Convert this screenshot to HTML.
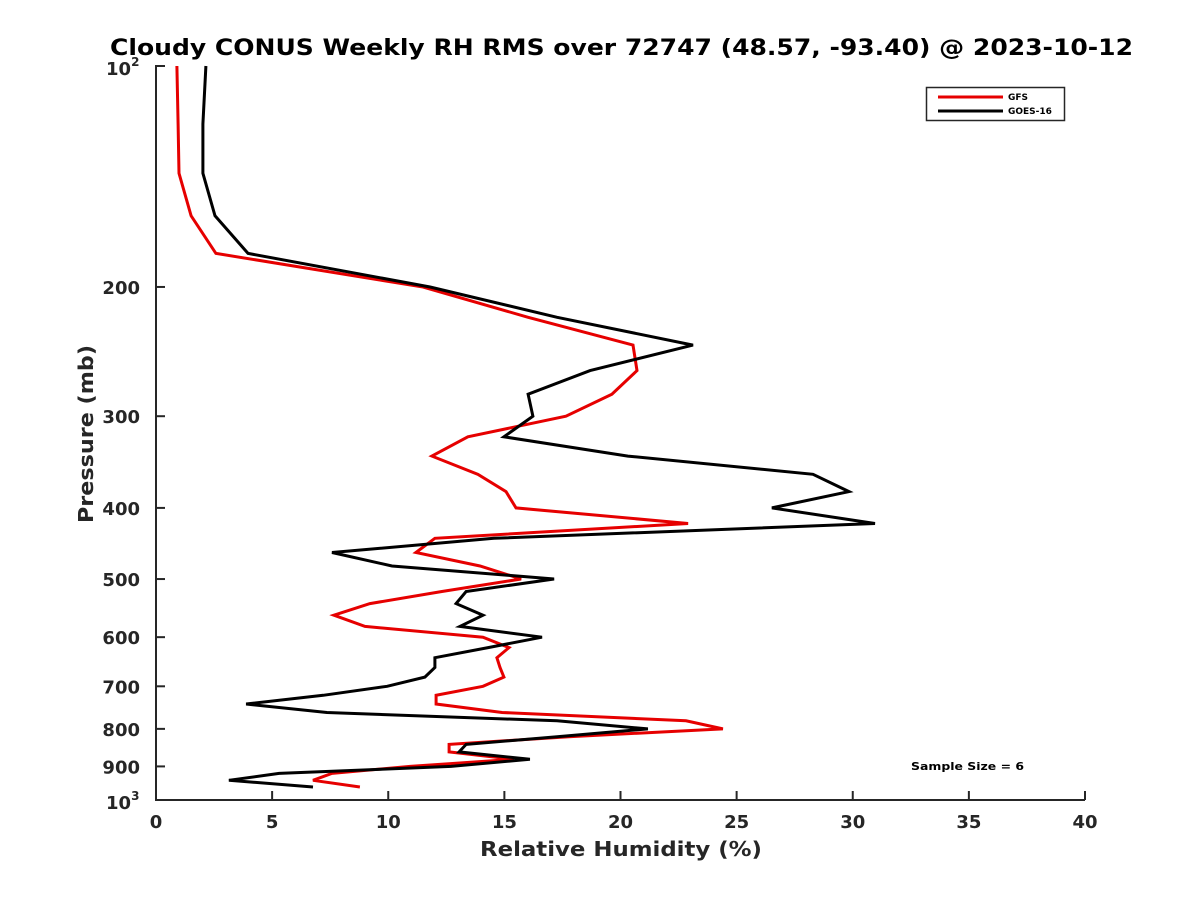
<!DOCTYPE html>
<html><head><meta charset="utf-8"><style>
body{margin:0;background:#fff}
svg text{font-family:"DejaVu Sans","Liberation Sans",sans-serif;font-weight:bold;fill:#262626}
</style></head><body>
<svg id="chart" width="1200" height="900" viewBox="0 0 1200 900" xmlns="http://www.w3.org/2000/svg">
<rect width="1200" height="900" fill="#fff"/>
<text x="110" y="55" font-size="22" textLength="1023" lengthAdjust="spacingAndGlyphs" style="fill:#000">Cloudy CONUS Weekly RH RMS over 72747 (48.57, -93.40) @ 2023-10-12</text>
<g id="axes"></g>
<g id="series"></g>
<text x="480" y="856" font-size="20" textLength="282" lengthAdjust="spacingAndGlyphs">Relative Humidity (%)</text>
<text transform="translate(93,523) rotate(-90)" font-size="20" textLength="178" lengthAdjust="spacingAndGlyphs">Pressure (mb)</text>
<g>
<rect x="926.5" y="87.5" width="138" height="33" fill="#fff" stroke="#262626" stroke-width="1.5"/>
<line x1="938" y1="97" x2="1003" y2="97" stroke="#e60000" stroke-width="3"/>
<text x="1008" y="100" font-size="9" style="fill:#000">GFS</text>
<line x1="938" y1="111" x2="1003" y2="111" stroke="#000" stroke-width="3"/>
<text x="1008" y="114" font-size="9" style="fill:#000">GOES-16</text>
</g>
<text x="911" y="770" font-size="11" textLength="113" lengthAdjust="spacingAndGlyphs" style="fill:#000">Sample Size = 6</text>
</svg>
<script>
const pressures = [100,120,140,160,180,200,220,240,260,280,300,320,340,360,380,400,420,440,460,480,500,520,540,560,580,600,620,640,660,680,700,720,740,760,780,800,820,840,860,880,900,920,940,960];
const gfsValues = [0.90,0.95,0.99,1.51,2.58,11.50,16.02,20.54,20.71,19.63,17.65,13.43,11.88,13.86,15.07,15.50,22.91,12.01,11.19,13.95,15.72,12.31,9.21,7.66,9.00,14.08,15.20,14.68,14.81,14.98,14.08,12.06,12.06,14.90,22.82,24.41,17.78,12.62,12.62,15.41,10.94,7.58,6.76,8.78];
const goesValues = [2.15,2.02,2.02,2.54,3.96,11.80,17.27,23.12,18.69,16.02,16.23,14.98,20.32,28.29,29.84,26.52,30.96,14.55,7.58,10.16,17.14,13.35,12.92,14.08,13.09,16.62,14.30,12.01,12.01,11.58,9.95,7.20,3.88,7.36,17.27,21.18,17.27,13.35,13.05,16.10,12.70,5.30,3.14,6.76];
const xTicks = [0,5,10,15,20,25,30,35,40];
const yTicks = [200,300,400,500,600,700,800,900];

const NS="http://www.w3.org/2000/svg";
const X0=156,X1=1085,Y0=66,Y1=800;
const xs=v=>X0+(v/40)*(X1-X0);
const ys=p=>Y0+(Math.log10(p)-2)*(Y1-Y0);
function mk(tag,attrs,parent){const e=document.createElementNS(NS,tag);for(const k in attrs)e.setAttribute(k,attrs[k]);parent.appendChild(e);return e;}
const ax=document.getElementById('axes');
let l=mk('line',{x1:X0,y1:Y0-1,x2:X0,y2:Y1,stroke:'#262626','stroke-width':2},ax);


l=mk('line',{x1:X0-1,y1:Y1,x2:X1,y2:Y1,stroke:'#262626','stroke-width':2},ax);


xTicks.forEach(v=>{
  const t=mk('line',{x1:xs(v),y1:Y1,x2:xs(v),y2:Y1-9,stroke:'#262626','stroke-width':2},ax);
  
  
  const tx=mk('text',{x:xs(v),y:828,'text-anchor':'middle','font-size':18},ax);
  tx.textContent=v;
  
  
});
[100].concat(yTicks).forEach(p=>{
  const t=mk('line',{x1:X0,y1:ys(p),x2:X0+9,y2:ys(p),stroke:'#262626','stroke-width':2},ax);
  
  
});
yTicks.forEach(p=>{
  const tx=mk('text',{x:140,y:ys(p)+7,'text-anchor':'end','font-size':18},ax);
  tx.textContent=p;
  
  
});
[[100,'2'],[1000,'3']].forEach(([p,e])=>{
  const tx=mk('text',{x:106,y:ys(p)+9,'font-size':18},ax);
  tx.textContent='10';
  const s=mk('tspan',{dy:-9,'font-size':12},tx);
  s.textContent=e;
  
  
});
const sg=document.getElementById('series');
function drawLine(vals,color,name){
  const pts=vals.map((v,i)=>xs(v).toFixed(1)+','+ys(pressures[i]).toFixed(1)).join(' ');
  const pl=mk('polyline',{points:pts,fill:'none',stroke:color,'stroke-width':3,'stroke-linejoin':'miter'},sg);
  
  
}
drawLine(gfsValues,'#e60000','gfs-line');
drawLine(goesValues,'#000','goes16-line');
</script>
</body></html>
